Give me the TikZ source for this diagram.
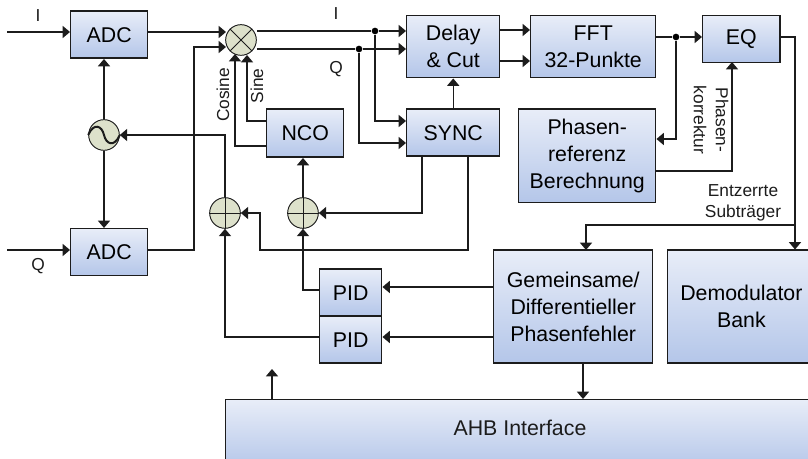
\documentclass[tikz,border=0pt]{standalone}
\usepackage{fontspec}
\setmainfont{Liberation Sans}
\usetikzlibrary{arrows.meta}
\usetikzlibrary{positioning}
\usetikzlibrary{calc}

\definecolor{boxtop}{HTML}{E8EDF8}
\definecolor{boxbottom}{HTML}{B4C6E9}
\definecolor{roundfill}{HTML}{DDE1CB}
\definecolor{inkline}{HTML}{1C1C1C}

\tikzset{
  sig/.style={draw=inkline, line width=1.1pt, -{Triangle[width=9pt,length=5.5pt]}},
  wire/.style={draw=inkline, line width=1.1pt},
  block/.style={draw=inkline, line width=1.1pt, top color=boxtop, bottom color=boxbottom,
    align=center, font=\fontsize{16}{20.3}\selectfont, inner sep=0pt, anchor=north west},
  round/.style={circle, draw=inkline, line width=0.7pt, fill=roundfill, minimum size=23pt, inner sep=0pt},
  small/.style={font=\fontsize{13}{15.5}\selectfont, align=center, text=inkline},
  joint/.style={circle, fill=black, inner sep=0pt, minimum size=5pt}
}

\begin{document}
\begin{tikzpicture}[x=0.75pt, y=-0.75pt]
  \useasboundingbox (0,0) rectangle (808,459);

  % Blocks
  \node[block, minimum width=57.75pt, minimum height=35.25pt] (adcA) at (70,10.5) {ADC};
  \node[block, minimum width=57.75pt, minimum height=35.25pt] (adcB) at (70,228) {ADC};
  \node[block, minimum width=57.75pt, minimum height=36pt] (nco) at (266,108.5) {NCO};
  \node[block, minimum width=69.75pt, minimum height=46.5pt] (delay) at (406,15) {Delay\\\& Cut};
  \node[block, minimum width=93.75pt, minimum height=46.5pt] (fft) at (530,15) {FFT\\32-Punkte};
  \node[block, minimum width=58pt, minimum height=35.25pt] (eq) at (702,15) {EQ};
  \node[block, minimum width=69.75pt, minimum height=35.25pt] (sync) at (406,108.5) {SYNC};
  \node[block, minimum width=102.75pt, minimum height=70pt] (phase) at (518,108.5) {Phasen-\\referenz\\Berechnung};
  \node[block, minimum width=46.5pt, minimum height=35.25pt] (pidA) at (319,268.5) {PID};
  \node[block, minimum width=46.5pt, minimum height=35.25pt] (pidB) at (319,315.5) {PID};
  \node[block, minimum width=119.25pt, minimum height=84.5pt] (error) at (493,249.5) {Gemeinsame/\\Differentieller\\Phasenfehler};
  \node[block, minimum width=110.5pt, minimum height=84.5pt] (demod) at (667,249.5) {Demodulator\\Bank};
  \node[block, minimum width=442.5pt, minimum height=52pt] (ahb) at (225,399) {};
  \node[font=\fontsize{16}{20}\selectfont, text=inkline] (ahblabel) at (520,428) {AHB Interface};

  % Mixer, oscillator, adders
  \node[round] (mixer) at (241,40) {};
  \draw[inkline, line width=0.7pt] (mixer.45) -- (mixer.225) (mixer.135) -- (mixer.315);
  \node[round] (osc) at (104,135) {};
  \draw[inkline, line width=1.5pt] (osc.west) .. controls (94,122) and (102,126) .. (104,135)
    .. controls (106,144) and (114,148) .. (osc.east);
  \node[round] (addA) at (225,213) {};
  \draw[inkline, line width=0.7pt] (addA.north) -- (addA.south) (addA.west) -- (addA.east);
  \node[round] (addB) at (303,213) {};
  \draw[inkline, line width=0.7pt] (addB.north) -- (addB.south) (addB.west) -- (addB.east);

  % Junctions and free ends
  \node[joint] (iJoin) at (375,31) {};
  \node[joint] (qJoin) at (359,49) {};
  \node[joint] (fftJoin) at (676,37) {};
  \coordinate (iIn) at (7,32);
  \coordinate (qIn) at (7,250);
  \coordinate (eqTurn) at (795,225);
  \coordinate (errTop) at (586,250);
  \coordinate (errBottom) at (583,362);
  \coordinate (ahbOut) at (272,369);

  % Input side
  \draw[sig] (iIn) -- (iIn -| adcA.west);
  \draw[sig] (qIn) -- (qIn -| adcB.west);
  \draw[sig] (adcA.east |- iIn) -- (226,32);
  \draw[sig] (adcB.east |- qIn) -- (194,250) -- (194,47) -- (226,47);
  \draw[sig] (osc.north) -- (osc.north |- adcA.south);
  \draw[sig] (osc.south) -- (osc.south |- adcB.north);
  \draw[sig] (addA.north) -- (225,135) -- (osc.east);

  % NCO and mixer
  \draw[sig] (nco.west |- 0,121) -- (247,121) -- (247,55);
  \draw[sig] (nco.west |- 0,146) -- (235,146) -- (235,54);
  \draw[sig] (addB.north) -- (addB.north |- nco.south);
  \draw[wire] (mixer.east |- iJoin) -- (iJoin);
  \draw[sig] (iJoin) -- (iJoin -| delay.west);
  \draw[wire] (mixer.east |- qJoin) -- (qJoin);
  \draw[sig] (qJoin) -- (qJoin -| delay.west);
  \draw[sig] (iJoin) |- (sync.west |- 0,121);
  \draw[sig] (qJoin) |- (sync.west |- 0,143);

  % Sync feedback
  \draw[sig] (sync.north) -- (sync.north |- delay.south);
  \draw[sig] (422,155) |- (addB.east);
  \draw[sig] (468,155) -- (468,250) -- (260,250) -- (260,213) -- (addA.east);
  \draw[sig] (pidA.west |- 0,290) -- (303,290) -- (addB.south);
  \draw[sig] (pidB.west |- 0,337) -- (225,337) -- (addA.south);
  \draw[sig] (error.west |- 0,287) -- (pidA.east |- 0,287);
  \draw[sig] (error.west |- 0,337) -- (pidB.east |- 0,337);

  % FFT and equaliser
  \draw[sig] (delay.east |- 0,30) -- (fft.west |- 0,30);
  \draw[sig] (delay.east |- 0,61) -- (fft.west |- 0,61);
  \draw[wire] (fft.east |- fftJoin) -- (fftJoin);
  \draw[sig] (fftJoin) -- (fftJoin -| eq.west);
  \draw[sig] (fftJoin) |- (phase.east |- 0,139);
  \draw[sig] (phase.east |- 0,171) -| (732,62);
  \draw[wire] (eq.east |- fftJoin) -| (eqTurn);
  \draw[sig] (eqTurn) -- (eqTurn |- demod.north);
  \draw[sig] (eqTurn) -| (errTop);

  % Bus
  \draw[sig] (errBottom) -- (errBottom |- ahb.north);
  \draw[sig] (ahb.north -| ahbOut) -- (ahbOut);

  % Labels
  \node[small] (iLabelA) at (38,16) {I};
  \node[small] (qLabelA) at (38,266) {Q};
  \node[small] (iLabelB) at (336,14) {I};
  \node[small] (qLabelB) at (336,69) {Q};
  \node[small, rotate=90] (cosLabel) at (223,95) {Cosine};
  \node[small, rotate=90] (sinLabel) at (257,86) {Sine};
  \node[small, rotate=-90, font=\fontsize{13}{16.5}\selectfont] (corrLabel) at (711,120) {Phasen-\\korrektur};
  \node[small] (subLabel) at (743,203) {Entzerrte\\Subträger};
\end{tikzpicture}
\end{document}
